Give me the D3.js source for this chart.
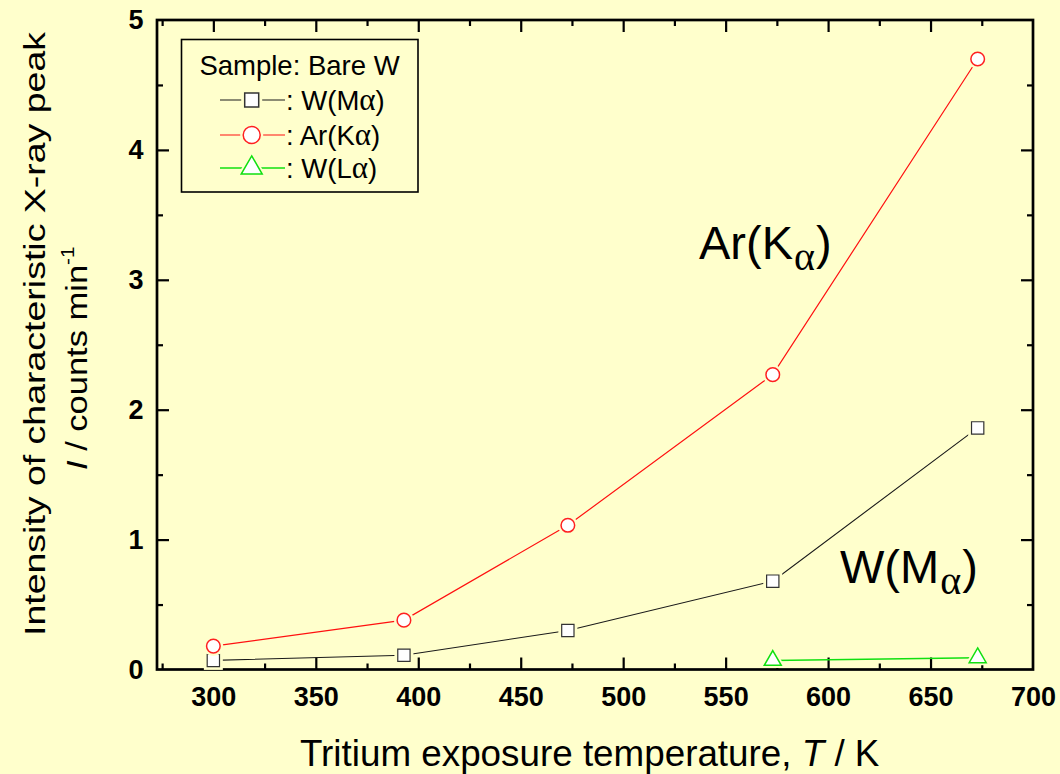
<!DOCTYPE html>
<html>
<head>
<meta charset="utf-8">
<script src="https://cdn.jsdelivr.net/npm/d3@7"></script>
<style>
  html, body { margin: 0; padding: 0; background: #FFFFCC; }
  svg { display: block; }
  text { font-family: "Liberation Sans", Arial, sans-serif; }
</style>
</head>
<body>
<svg id="chart" width="1060" height="774"></svg>
<script>
// ---- data ----
const temps = [300, 393, 473, 573, 673];
const wMa = [0.07, 0.11, 0.30, 0.68, 1.86];
const arKa = [0.18, 0.38, 1.11, 2.27, 4.70];
const wLaTemps = [573, 673];
const wLa = [0.07, 0.09];
const xTicks = [300, 350, 400, 450, 500, 550, 600, 650, 700];
const xMinor = [275, 325, 375, 425, 475, 525, 575, 625, 675];
const yTicks = [0, 1, 2, 3, 4, 5];
const yMinor = [0.5, 1.5, 2.5, 3.5, 4.5];
const legendTitle = "Sample: Bare W";

const BG = "#FFFFCC";
const svg = d3.select("#chart");
svg.append("rect").attr("width", 1060).attr("height", 774).attr("fill", BG);

const L = 157, R = 1033, T = 20, B = 669.5;
const x = d3.scaleLinear().domain([272.5, 700]).range([L, R]);
const y = d3.scaleLinear().domain([0, 5]).range([B, T]);

function styleAxis(g, w) {
  g.select(".domain").remove();
  g.selectAll(".tick line").attr("stroke", "#000").attr("stroke-width", w);
}
// bottom
const gB = svg.append("g").attr("transform", `translate(0,${B})`)
  .call(d3.axisBottom(x).tickValues(xTicks).tickSizeInner(-12).tickSizeOuter(0).tickPadding(17.5).tickFormat(d3.format("d")));
styleAxis(gB, 2.2);
gB.selectAll("text").attr("font-size", 27).attr("font-weight", "bold").attr("fill", "#000")
  .attr("font-family", "Liberation Sans, Arial, sans-serif");
gB.selectAll(".tick").filter(d => d === 700).select("line").remove();
const gBm = svg.append("g").attr("transform", `translate(0,${B})`)
  .call(d3.axisBottom(x).tickValues(xMinor).tickSize(-6).tickFormat(""));
styleAxis(gBm, 2.2);
// top
const gT = svg.append("g").attr("transform", `translate(0,${T})`)
  .call(d3.axisTop(x).tickValues(xTicks.filter(d => d < 700)).tickSize(-12).tickFormat(""));
styleAxis(gT, 2.2);
const gTm = svg.append("g").attr("transform", `translate(0,${T})`)
  .call(d3.axisTop(x).tickValues(xMinor).tickSize(-6).tickFormat(""));
styleAxis(gTm, 2.2);
// left
const gL = svg.append("g").attr("transform", `translate(${L},0)`)
  .call(d3.axisLeft(y).tickValues(yTicks).tickSizeInner(-12).tickSizeOuter(0).tickPadding(13.5).tickFormat(d3.format("d")));
styleAxis(gL, 2.2);
gL.selectAll("text").attr("font-size", 27).attr("font-weight", "bold").attr("fill", "#000")
  .attr("font-family", "Liberation Sans, Arial, sans-serif");
gL.selectAll(".tick").filter(d => d === 0 || d === 5).select("line").remove();
const gLm = svg.append("g").attr("transform", `translate(${L},0)`)
  .call(d3.axisLeft(y).tickValues(yMinor).tickSize(-6).tickFormat(""));
styleAxis(gLm, 2.2);
// right
const gR = svg.append("g").attr("transform", `translate(${R},0)`)
  .call(d3.axisRight(y).tickValues(yTicks.filter(d => d > 0 && d < 5)).tickSize(-12).tickFormat(""));
styleAxis(gR, 2.2);
const gRm = svg.append("g").attr("transform", `translate(${R},0)`)
  .call(d3.axisRight(y).tickValues(yMinor).tickSize(-6).tickFormat(""));
styleAxis(gRm, 2.2);

// frame
svg.append("rect").attr("x", L).attr("y", T).attr("width", R - L).attr("height", B - T)
  .attr("fill", "none").attr("stroke", "#000").attr("stroke-width", 2.7);

// ---- series ----
const sq = (s) => d3.symbol().type(d3.symbolSquare).size(s * s)();
const ci = (r) => d3.symbol().type(d3.symbolCircle).size(Math.PI * r * r)();
const tri = (side) => d3.symbol().type(d3.symbolTriangle).size(Math.sqrt(3) / 4 * side * side)();

const series = [
  { xs: temps, ys: wMa, color: "#1a1a1a", mstroke: "#333", lw: 1.1, shape: "sq" },
  { xs: temps, ys: arKa, color: "#FF1010", mstroke: "#FF2020", lw: 1.2, shape: "ci" },
  { xs: wLaTemps, ys: wLa, color: "#10E010", mstroke: "#10E010", lw: 1.5, shape: "tri" }
];
const line = d3.line().x(d => x(d[0])).y(d => y(d[1]));
function markerPath(shape, big) {
  if (shape === "sq") return sq(big ? 14 : 12.3);
  if (shape === "ci") return ci(big ? 8.5 : 6.8);
  return tri(big ? 21 : 17);
}
function haloPath(shape, big) {
  if (shape === "sq") return sq(big ? 21 : 19);
  if (shape === "ci") return ci(big ? 11.5 : 10);
  return tri(big ? 30 : 26);
}
series.forEach(s => {
  const pts = s.xs.map((t, i) => [t, s.ys[i]]);
  svg.append("path").datum(pts).attr("d", line).attr("fill", "none")
    .attr("stroke", s.color).attr("stroke-width", s.lw);
  svg.append("g").selectAll("path").data(pts).join("path")
    .attr("transform", d => `translate(${x(d[0])},${y(d[1])})`)
    .attr("d", haloPath(s.shape, false)).attr("fill", BG);
  svg.append("g").selectAll("path").data(pts).join("path")
    .attr("transform", d => `translate(${x(d[0])},${y(d[1])})`)
    .attr("d", markerPath(s.shape, false)).attr("fill", "#fff")
    .attr("stroke", s.mstroke).attr("stroke-width", s.shape === "sq" ? 1.2 : 1.5);
});

// ---- legend ----
const lg = svg.append("g");
lg.append("rect").attr("x", 181.5).attr("y", 39.5).attr("width", 236.5).attr("height", 152.5)
  .attr("fill", BG).attr("stroke", "#000").attr("stroke-width", 1.6);
lg.append("text").attr("x", 299.5).attr("y", 75).attr("text-anchor", "middle")
  .attr("font-size", 27.5).attr("fill", "#000").text(legendTitle);
const legendRows = [
  { label: ["W(M", ")"], cy: 100, by: 110, s: series[0] },
  { label: ["Ar(K", ")"], cy: 135, by: 145, s: series[1] },
  { label: ["W(L", ")"], cy: 168, by: 178, s: series[2] }
];
legendRows.forEach(r => {
  lg.append("line").attr("x1", 220).attr("x2", 285).attr("y1", r.cy).attr("y2", r.cy)
    .attr("stroke", r.s.color).attr("stroke-width", r.s.lw);
  lg.append("path").attr("transform", `translate(251.7,${r.cy})`)
    .attr("d", haloPath(r.s.shape, true)).attr("fill", BG);
  lg.append("path").attr("transform", `translate(251.7,${r.cy})`)
    .attr("d", markerPath(r.s.shape, true)).attr("fill", "#fff")
    .attr("stroke", r.s.mstroke).attr("stroke-width", 1.5);
  const t = lg.append("text").attr("x", 286).attr("y", r.by).attr("font-size", 27.5).attr("fill", "#000");
  t.append("tspan").text(": " + r.label[0]);
  t.append("tspan").attr("font-family", "Liberation Serif, serif").attr("font-size", 31).text("α");
  t.append("tspan").text(r.label[1]);
});

// ---- annotations ----
function annot(xp, yp, main) {
  const t = svg.append("text").attr("x", xp).attr("y", yp).attr("font-size", 47)
    .attr("font-family", "Lato, 'Open Sans', sans-serif").attr("fill", "#000");
  t.append("tspan").text(main);
  t.append("tspan").attr("font-size", 40).attr("dy", 11).attr("dx", 1)
    .attr("font-family", "'Liberation Serif', serif").text("α");
  t.append("tspan").attr("dy", -11).attr("dx", 1).text(")");
  return t;
}
annot(699, 259, "Ar(K");
annot(840, 583, "W(M");

// ---- axis titles ----
const xt = svg.append("text").attr("x", 300).attr("y", 766).attr("font-size", 36.8).attr("fill", "#000");
xt.append("tspan").text("Tritium exposure temperature, ");
xt.append("tspan").attr("font-style", "italic").text("T");
xt.append("tspan").text(" / K");

const y1 = svg.append("text").attr("transform", "translate(45,334) rotate(-90) scale(1.25,1)")
  .attr("text-anchor", "middle").attr("font-size", 30).attr("fill", "#000")
  .text("Intensity of characteristic X-ray peak");
const y2 = svg.append("text").attr("transform", "translate(87,470) rotate(-90) scale(1.15,1)")
  .attr("font-size", 30).attr("fill", "#000");
y2.append("tspan").attr("font-style", "italic").text("I");
y2.append("tspan").text(" / counts min");
y2.append("tspan").attr("font-size", 18).attr("dy", -13).text("-1");
</script>
</body>
</html>
